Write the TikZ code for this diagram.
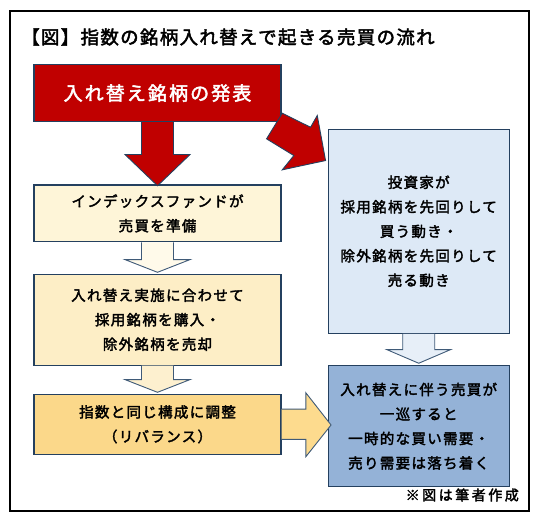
\documentclass[tikz,border=0pt]{standalone}
\usepackage{fontspec}
\usetikzlibrary{calc}
\newfontfamily\jp{Noto Sans CJK JP}[FakeBold=2.4]
\definecolor{frame}{HTML}{000000}
\definecolor{edge}{HTML}{24405F}
\definecolor{redf}{HTML}{C00000}
\definecolor{yel1}{HTML}{FEF5D8}
\definecolor{yel2}{HTML}{FDEEC6}
\definecolor{yel3}{HTML}{FBD88A}
\definecolor{blu1}{HTML}{DDE9F6}
\definecolor{blu2}{HTML}{94B2D7}
\definecolor{arw1}{HTML}{FFFAEA}
\definecolor{arw2}{HTML}{FDF0CF}
\definecolor{arw3}{HTML}{E7EFF8}
\definecolor{arw4}{HTML}{FDDB8E}
\definecolor{arwedge}{HTML}{3F5A78}
\tikzset{
  box/.style={draw=edge, line width=1.1pt, inner sep=0pt, align=center,
    font=\jp\fontsize{14.5}{24.5}\selectfont\addfontfeature{LetterSpace=9}},
  lbox/.style={box, minimum width=247pt},
  rbox/.style={box, minimum width=181.3pt},
  arrowshape/.style={draw=arwedge, line width=0.9pt, line join=miter},
}
\begin{document}
\begin{tikzpicture}[x=1pt,y=-1pt]
\useasboundingbox (0,0) rectangle (540,518);
\fill[white] (0,0) rectangle (540,518);
\draw[frame, line width=2.8pt] (10,11) rectangle (529,511);

\node[anchor=west, inner sep=0pt, font=\jp\fontsize{18.5}{20}\selectfont\addfontfeature{LetterSpace=7}] (title) at (21,37) {【図】指数の銘柄入れ替えで起きる売買の流れ};

% boxes
\node[lbox, fill=redf, minimum height=57.2pt, text=white,
  font=\jp\fontsize{19}{22}\selectfont\addfontfeature{LetterSpace=11}] (red) at (157.5,93.1) {入れ替え銘柄の発表};
\node[lbox, fill=yel1, minimum height=56.7pt] (y1) at (157.5,213.4) {インデックスファンドが\\売買を準備};
\node[lbox, fill=yel2, minimum height=90.7pt] (y2) at (157.5,319.7) {入れ替え実施に合わせて\\採用銘柄を購入・\\除外銘柄を売却};
\node[lbox, fill=yel3, minimum height=60pt] (y3) at (157.5,424.3) {指数と同じ構成に調整\\（リバランス）};
\node[rbox, fill=blu1, minimum height=204pt] (b1) at (418.7,231.3) {投資家が\\採用銘柄を先回りして\\買う動き・\\除外銘柄を先回りして\\売る動き};
\node[rbox, fill=blu2, minimum height=120.9pt] (b2) at (418.7,426.2) {入れ替えに伴う売買が\\一巡すると\\一時的な買い需要・\\売り需要は落ち着く};

% red down arrow
\begin{scope}[shift={(red.south)}]
\draw[arrowshape, draw=edge, fill=redf] (-16,0) -- (-16,32.3) -- (-32.5,32.3) -- (0,63.5) -- (32.5,32.3) -- (16,32.3) -- (16,0);
\end{scope}
% red diagonal arrow
\begin{scope}[shift={(red.south east)}]
\draw[arrowshape, draw=edge, fill=redf] (0.7,-9) -- (29,5) -- (35.7,-6.7) -- (44,38.3) -- (0.7,47.6) -- (12.3,33.3) -- (-15,16.6) -- cycle;
\end{scope}
% hollow arrow 1
\begin{scope}[shift={(y1.south)}]
\draw[arrowshape, fill=arw1] (-16,0) -- (-16,17.3) -- (-32.5,17.3) -- (0,30) -- (32.5,17.3) -- (16,17.3) -- (16,0);
\end{scope}
% hollow arrow 2
\begin{scope}[shift={(y2.south)}]
\draw[arrowshape, fill=arw2] (-16,0) -- (-16,14) -- (-32.5,14) -- (0,26.7) -- (32.5,14) -- (16,14) -- (16,0);
\end{scope}
% hollow arrow 3
\begin{scope}[shift={(b1.south)}]
\draw[arrowshape, fill=arw3] (-16,0) -- (-16,15.7) -- (-32,15.7) -- (0,29.4) -- (32,15.7) -- (16,15.7) -- (16,0);
\end{scope}
% right arrow
\begin{scope}[shift={(y3.east)}]
\draw[arrowshape, fill=arw4] (0,-15.2) -- (24.3,-15.2) -- (24.3,-31.5) -- (49.5,0.7) -- (24.3,32.4) -- (24.3,15) -- (0,15);
\end{scope}

\node[anchor=east, inner sep=0pt, font=\jp\fontsize{14}{16}\selectfont\addfontfeature{LetterSpace=18}] (note) at (519,495) {※図は筆者作成};
\end{tikzpicture}
\end{document}
